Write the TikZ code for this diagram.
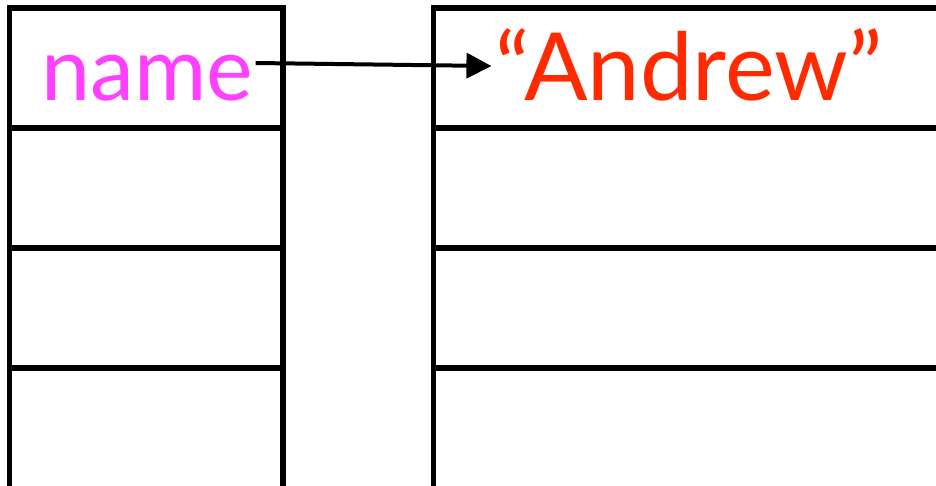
\documentclass[tikz,border=0pt]{standalone}
\usepackage{fontspec}
\setmainfont{Lato}
\usetikzlibrary{arrows.meta}
\definecolor{namecol}{HTML}{FF40FF}
\definecolor{strcol}{HTML}{FF2A00}
\tikzset{
  cellL/.style={draw=black, line width=5.5pt, rectangle, minimum width=273.5pt, minimum height=120pt, inner sep=0pt},
  cellR/.style={draw=black, line width=5.5pt, rectangle, minimum width=540pt, minimum height=120pt, inner sep=0pt},
  bigtext/.style={inner sep=0pt, anchor=base},
  ptr/.style={line width=4pt, -{Triangle[length=25pt,width=25pt]}}
}
\begin{document}
\begin{tikzpicture}[x=1pt,y=-1pt]
\useasboundingbox (0,0) rectangle (936,485);
\clip (0,0) rectangle (936,485);
\fill[white] (0,0) rectangle (936,485);
% left table
\node[cellL] (l1) at (146.25,68) {};
\node[cellL] (l2) at (146.25,188) {};
\node[cellL] (l3) at (146.25,308) {};
\node[cellL, minimum height=140pt] (l4) at (146.25,438) {};
% right table
\node[cellR] (r1) at (703.5,68) {};
\node[cellR] (r2) at (703.5,188) {};
\node[cellR] (r3) at (703.5,308) {};
\node[cellR, minimum height=140pt] (r4) at (703.5,438) {};
% texts
\node[bigtext, text=namecol, font=\fontsize{88}{88}\selectfont] (nm) at (147.5,100) {name};
\node[bigtext, text=strcol, font=\fontsize{94}{94}\selectfont] (an) at (689,100) {“Andrew”};
\draw[ptr] ([xshift=2pt,yshift=37pt]nm.base east) -- ([xshift=-4pt,yshift=34pt]an.base west);
\end{tikzpicture}
\end{document}
